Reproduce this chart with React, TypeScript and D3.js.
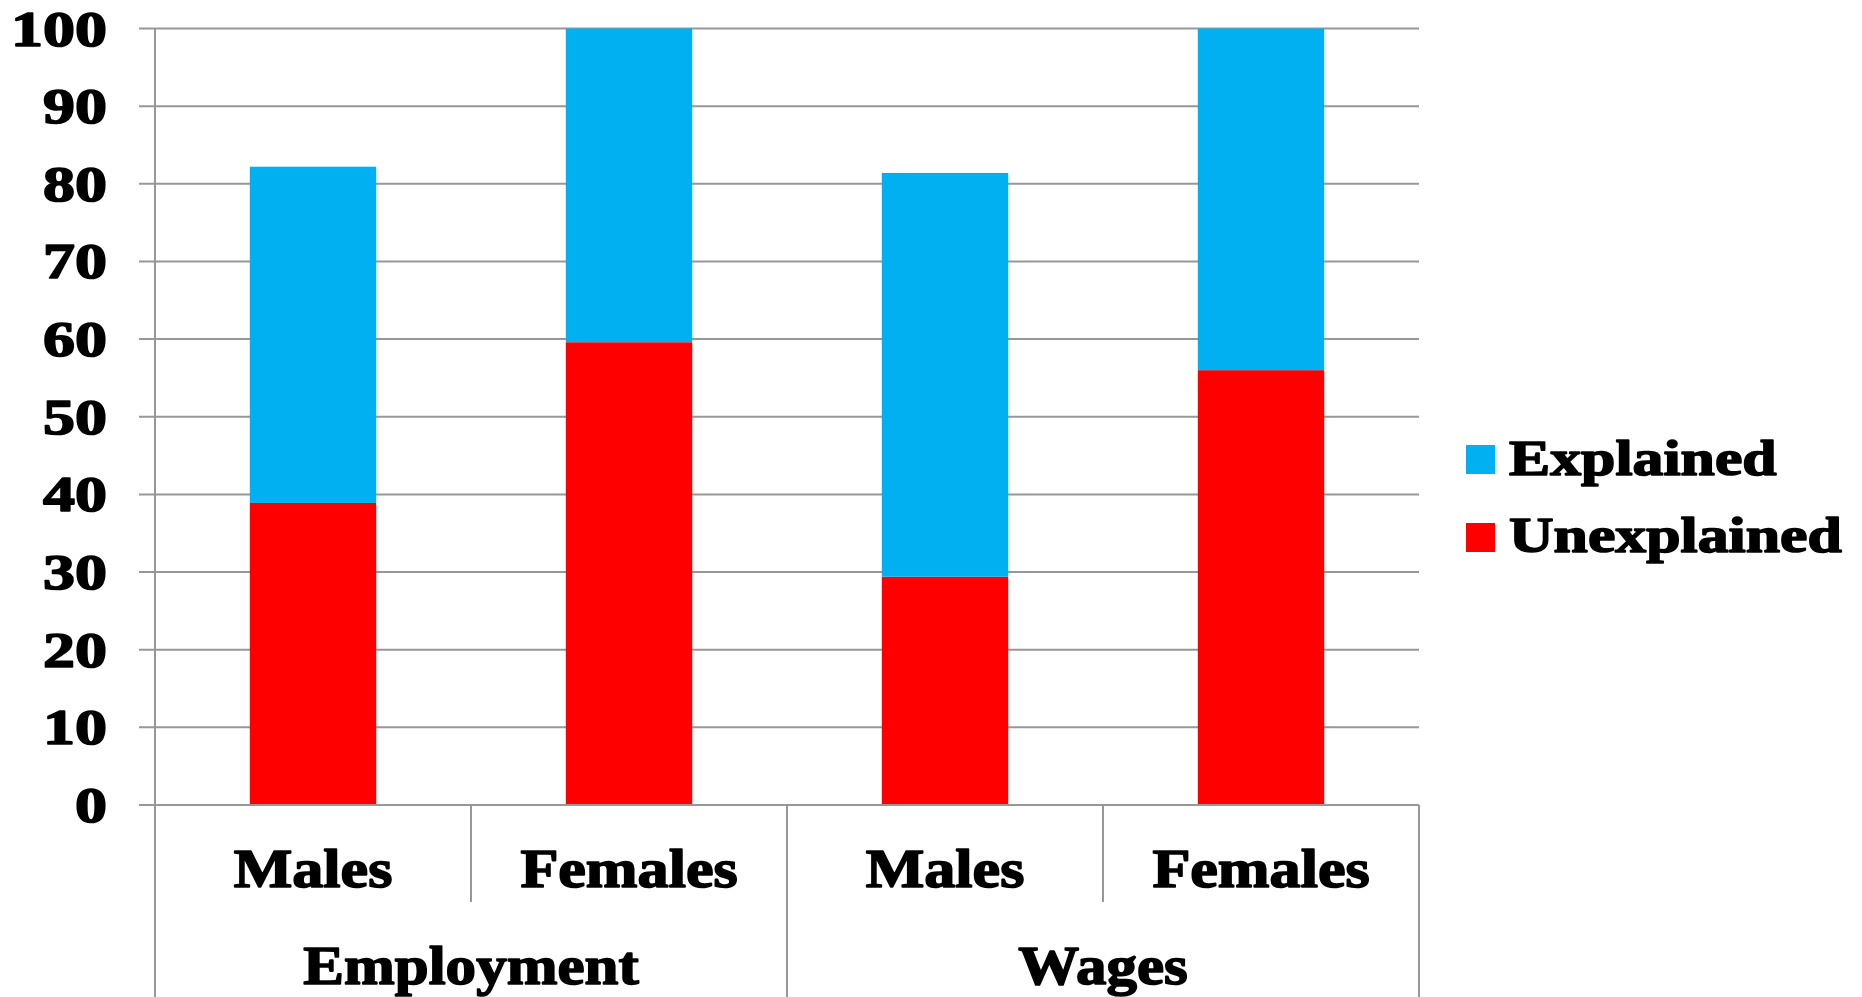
import React from "react";
import * as d3 from "d3";

// Decomposition of the gender gap, in percent
const categories = ["Males", "Females", "Males", "Females"];
const groups = ["Employment", "Wages"];
const unexplained = [38.9, 59.6, 29.4, 56.0];
const explained = [43.3, 40.4, 52.0, 44.0];
const yTicks = [0, 10, 20, 30, 40, 50, 60, 70, 80, 90, 100];
const seriesNames = ["Explained", "Unexplained"];

const COLORS: Record<string, string> = {
  Explained: "#00B0F0",
  Unexplained: "#FF0000",
};

const W = 1862;
const H = 997;
const LEFT = 155;
const RIGHT = 1419;
const TOP = 28.5;
const BOTTOM = 805;
const GRID = "#979797";
const FONT = "'Liberation Serif', 'Times New Roman', serif";

function Stretched({
  x,
  y,
  sx,
  size,
  anchor,
  children,
}: {
  x: number;
  y: number;
  sx: number;
  size: number;
  anchor: "start" | "middle" | "end";
  children: React.ReactNode;
}) {
  return (
    <g transform={`translate(${x},${y}) scale(${sx},1)`}>
      <text
        textAnchor={anchor}
        fontFamily={FONT}
        fontWeight={700}
        fontSize={size}
        fill="#000"
        stroke="#000"
        strokeWidth={1.6}
        strokeLinejoin="round"
      >
        {children}
      </text>
    </g>
  );
}

export default function App() {
  const keys = categories.map((_, i) => i);
  const x = d3
    .scaleBand<number>()
    .domain(keys)
    .range([LEFT, RIGHT])
    .paddingInner(0.6)
    .paddingOuter(0.3);
  const step = x.step();
  const y = d3.scaleLinear().domain([0, 100]).range([BOTTOM, TOP]);

  const rows = keys.map((i) => ({
    key: i,
    Unexplained: unexplained[i],
    Explained: explained[i],
  }));
  const stack = d3.stack<any>().keys(["Unexplained", "Explained"])(rows);

  const perGroup = categories.length / groups.length;

  return (
    <svg
      width={W}
      height={H}
      style={{ position: "absolute", left: 0, top: 0, background: "#fff" }}
    >
      {/* horizontal gridlines with tick stubs */}
      {yTicks.map((t) => (
        <line
          key={`g${t}`}
          x1={LEFT - 16}
          x2={RIGHT}
          y1={y(t)}
          y2={y(t)}
          stroke={GRID}
          strokeWidth={2}
        />
      ))}

      {/* stacked bars */}
      {stack.map((layer) => (
        <g key={layer.key} fill={COLORS[layer.key as string]}>
          {layer.map((d, i) => (
            <rect
              key={i}
              x={x(i)}
              width={x.bandwidth()}
              y={y(d[1])}
              height={y(d[0]) - y(d[1])}
            />
          ))}
        </g>
      ))}

      {/* value axis */}
      <line x1={LEFT} x2={LEFT} y1={TOP} y2={H} stroke={GRID} strokeWidth={2} />
      {yTicks.map((t) => (
        <Stretched key={`l${t}`} x={107} y={y(t) + 17} sx={1.28} size={50} anchor="end">
          {t}
        </Stretched>
      ))}

      {/* category axis with grouped separators */}
      <line x1={LEFT - 16} x2={RIGHT} y1={BOTTOM} y2={BOTTOM} stroke={GRID} strokeWidth={2} />
      {d3.range(categories.length + 1).map((i) => {
        const bx = LEFT + i * step;
        const full = i % perGroup === 0;
        return (
          <line
            key={`s${i}`}
            x1={bx}
            x2={bx}
            y1={BOTTOM}
            y2={full ? H : 902}
            stroke={GRID}
            strokeWidth={2}
          />
        );
      })}
      {categories.map((c, i) => (
        <Stretched
          key={`c${i}`}
          x={(x(i) as number) + x.bandwidth() / 2}
          y={887}
          sx={1.15}
          size={54}
          anchor="middle"
        >
          {c}
        </Stretched>
      ))}
      {groups.map((g, gi) => (
        <Stretched
          key={`gr${g}`}
          x={LEFT + (gi + 0.5) * perGroup * step}
          y={984}
          sx={1.13}
          size={54}
          anchor="middle"
        >
          {g}
        </Stretched>
      ))}

      {/* legend */}
      {seriesNames.map((s, i) => (
        <g key={`lg${s}`}>
          <rect x={1466} y={445 + i * 78} width={29} height={29} fill={COLORS[s]} />
          <Stretched x={1509} y={475 + i * 77} sx={1.235} size={50} anchor="start">
            {s}
          </Stretched>
        </g>
      ))}
    </svg>
  );
}
